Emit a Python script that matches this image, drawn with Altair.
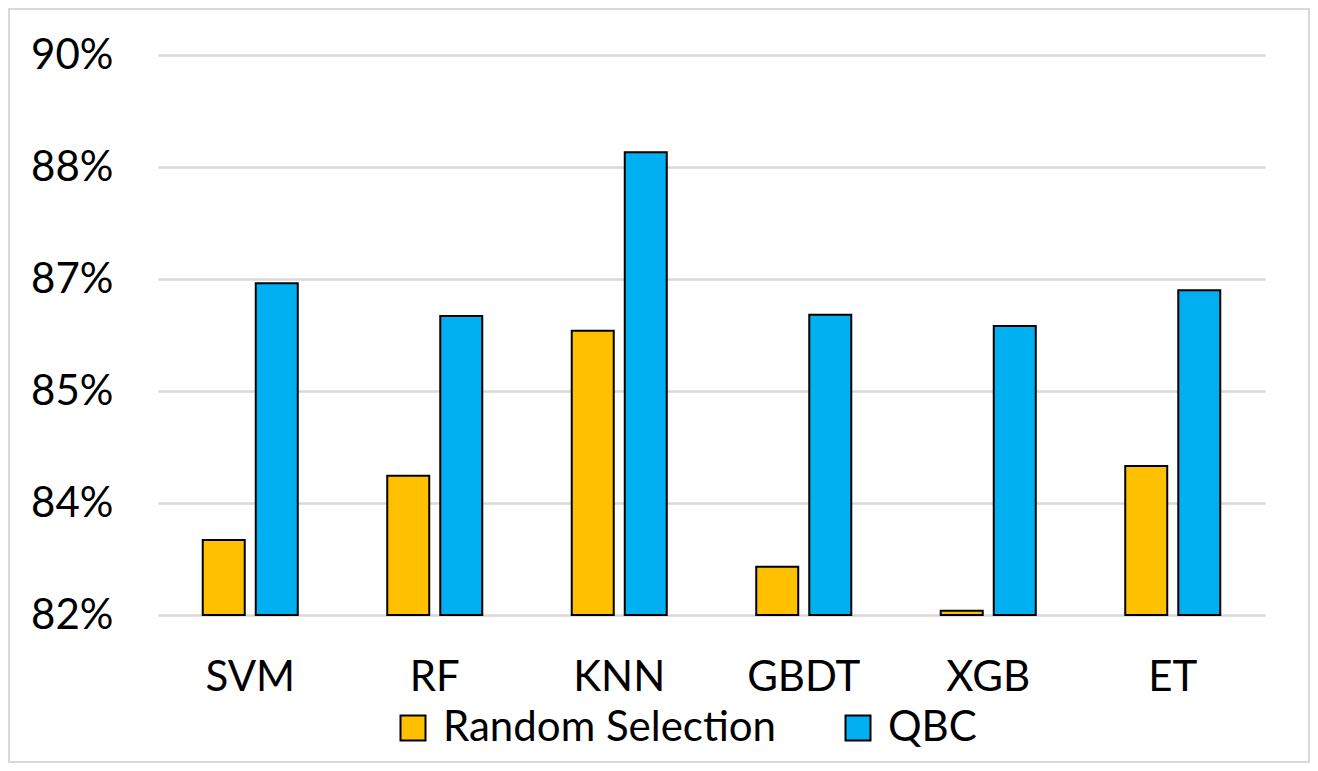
import altair as alt
import pandas as pd

categories = ["SVM", "RF", "KNN", "GBDT", "XGB", "ET"]
series_names = ["Random Selection", "QBC"]
random_selection = [83.07, 83.99, 86.06, 82.69, 82.06, 84.13]
qbc = [86.74, 86.27, 88.61, 86.29, 86.13, 86.64]
y_ticks = [82, 83.6, 85.2, 86.8, 88.4, 90]
colors = ["#FFC000", "#00B0F0"]

rows = []
for i, c in enumerate(categories):
    rows.append({"model": c, "method": series_names[0], "value": random_selection[i]})
    rows.append({"model": c, "method": series_names[1], "value": qbc[i]})
df = pd.DataFrame(rows)

W, H = 1107, 560
PL, PT, PR, PB = 150, 47, 45, 148
FONT = "Lato"
FS = 42

bars = alt.Chart(df).mark_bar(stroke="black", strokeWidth=2).encode(
    x=alt.X("model:N", sort=categories, title=None,
            scale=alt.Scale(paddingInner=0.485, paddingOuter=0.2425),
            axis=alt.Axis(labelAngle=0, labelFontSize=FS, labelFont=FONT, labelColor="black",
                          labelPadding=42, domain=False, ticks=False, grid=False)),
    xOffset=alt.XOffset("method:N", sort=series_names,
                        scale=alt.Scale(paddingInner=0.208, paddingOuter=0)),
    y=alt.Y("value:Q", title=None,
            scale=alt.Scale(domain=[82, 90], zero=False, nice=False),
            axis=alt.Axis(values=y_ticks, labelExpr="format(datum.value, '.0f') + '%'",
                          labelFontSize=FS, labelFont=FONT, labelColor="black",
                          labelPadding=45, domain=False, ticks=False,
                          gridColor="#d9d9d9", gridWidth=2.5)),
    y2=alt.datum(82),
    fill=alt.Fill("method:N", sort=series_names,
                  scale=alt.Scale(domain=series_names, range=colors),
                  legend=alt.Legend(title=None, orient="none", direction="horizontal",
                                    legendX=234, legendY=652,
                                    symbolType="square", symbolSize=625,
                                    symbolStrokeColor="black", symbolStrokeWidth=2,
                                    labelFontSize=FS, labelFont=FONT, labelColor="black",
                                    labelOffset=9, columnPadding=60, labelLimit=600)),
)

border = alt.Chart(pd.DataFrame({"a": [0]})).mark_rect(
    fill="transparent", stroke="#d9d9d9", strokeWidth=2, clip=False
).encode(
    x=alt.value(-PL + 1), x2=alt.value(W + PR - 1),
    y=alt.value(-PT + 1), y2=alt.value(H + PB - 1),
)

chart = alt.layer(bars, border).properties(
    width=W, height=H,
    background="white",
    autosize=alt.AutoSizeParams(type="none"),
    padding={"left": PL, "top": PT, "right": PR, "bottom": PB},
).configure_view(strokeWidth=0, stroke="transparent")

chart.save("out.html", embed_options={"renderer": "svg", "actions": False})
